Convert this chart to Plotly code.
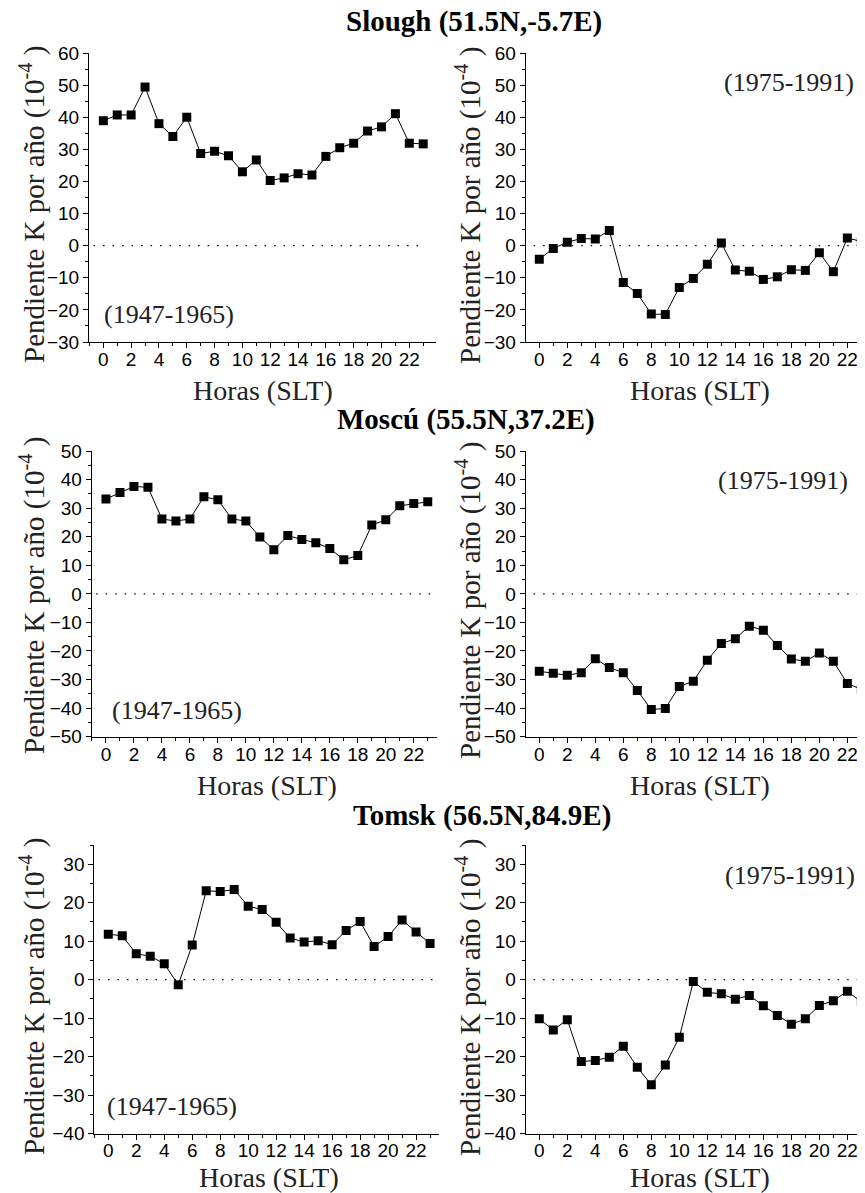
import plotly.graph_objects as go

# ---------------- data ----------------
hours = list(range(24))
x_tick_vals = list(range(0, 23, 2))

slough_1947_1965 = [38.9, 40.7, 40.7, 49.4, 38.0, 34.0, 40.0, 28.7, 29.4, 28.0, 23.0, 26.7,
                    20.3, 21.1, 22.4, 22.0, 27.8, 30.5, 31.9, 35.7, 37.0, 41.1, 31.9, 31.7]
slough_1975_1991 = [-4.2, -0.9, 1.1, 2.2, 2.1, 4.7, -11.5, -14.9, -21.3, -21.4, -13.0, -10.2,
                    -5.8, 0.8, -7.6, -8.0, -10.5, -9.7, -7.5, -7.7, -2.2, -8.1, 2.4, 1.3]
moscu_1947_1965 = [33.2, 35.5, 37.6, 37.3, 26.2, 25.5, 26.2, 34.0, 32.9, 26.2, 25.5, 19.9,
                   15.4, 20.4, 19.0, 17.9, 15.9, 11.9, 13.4, 24.1, 25.9, 30.8, 31.6, 32.2]
moscu_1975_1991 = [-27.1, -27.8, -28.5, -27.6, -22.7, -25.8, -27.6, -33.8, -40.5, -40.1, -32.4, -30.6,
                   -23.2, -17.4, -15.7, -11.3, -12.7, -18.1, -22.8, -23.6, -20.7, -23.6, -31.4, -33.4]
tomsk_1947_1965 = [11.8, 11.4, 6.7, 6.1, 4.1, -1.3, 9.0, 23.1, 22.9, 23.4, 19.1, 18.2,
                   14.9, 10.8, 9.8, 10.1, 9.1, 12.8, 15.1, 8.6, 11.2, 15.5, 12.4, 9.4]
tomsk_1975_1991 = [-10.2, -13.1, -10.4, -21.3, -21.0, -20.2, -17.3, -22.8, -27.3, -22.2, -15.0, -0.5,
                   -3.3, -3.7, -5.1, -4.1, -6.8, -9.3, -11.6, -10.2, -6.7, -5.5, -3.0, -5.8]

station_titles = ["Slough (51.5N,-5.7E)", "Moscú (55.5N,37.2E)", "Tomsk (56.5N,84.9E)"]
period_left = "(1947-1965)"
period_right = "(1975-1991)"
y_title = "Pendiente K por año (10<sup>-4</sup> )"
x_title = "Horas (SLT)"

# ---------------- layout geometry (screen pixels) ----------------
# The page body has an 8px margin, so the figure is sized to end exactly at the window edge.
OFF = 8
W, H = 865 - OFF, 1193 - OFF
def fx(p):
    return (p - OFF) / W
def fy(p):
    return 1 - (p - OFF) / H

SANS = "Liberation Sans"
SERIF = "Liberation Serif"
BLACK = "black"

rows = [
    dict(left=slough_1947_1965, right=slough_1975_1991, yr=[-30, 60], top=53, bot=342,
         lx=(89, 436), lxr=[-1.03, 23.92], ytc=(205, 206), xtc=390, title=(474, 21.5),
         lab_l=(-0.1, -21.5), lab_r=(22.6, 50.7)),
    dict(left=moscu_1947_1965, right=moscu_1975_1991, yr=[-50, 50], top=451, bot=736.7,
         lx=(91.7, 436.7), lxr=[-1.02, 23.64], ytc=(596, 601), xtc=785, title=(466, 420),
         lab_l=(0.3, -40.8), lab_r=(22.2, 39.6)),
    dict(left=tomsk_1947_1965, right=tomsk_1975_1991, yr=[-40, 35], top=845, bot=1133.5,
         lx=(94.3, 439.3), lxr=[-1.0, 23.66], ytc=(997, 998), xtc=1177, title=(482.5, 815),
         lab_l=(-0.24, -32.9), lab_r=(22.7, 27.0)),
]
right_x_px = (525.7, 865)
right_xr = [-0.97, 23.26]

fig = go.Figure()
annotations = []
shapes = []
layout_axes = {}

tickfont = dict(family=SANS, size=19, color=BLACK)

def main_x(rng, dom, anchor):
    return dict(domain=dom, range=rng, anchor=anchor, showline=True, linecolor=BLACK, linewidth=1,
                ticks="outside", ticklen=5, tickwidth=1, tickcolor=BLACK, automargin=False,
                tickmode="array", tickvals=x_tick_vals, ticktext=[str(v) for v in x_tick_vals],
                ticklabelstandoff=-5,
                minor=dict(tickmode="linear", tick0=0, dtick=1, ticks="outside", ticklen=3,
                           tickcolor=BLACK, tickwidth=1),
                showgrid=False, zeroline=False, tickfont=tickfont)

def main_y(rng, dom, anchor):
    return dict(domain=dom, range=rng, anchor=anchor, showline=True, linecolor=BLACK, linewidth=1,
                ticks="outside", ticklen=5, tickwidth=1, tickcolor=BLACK, automargin=False,
                tickmode="linear", tick0=0, dtick=10,
                minor=dict(tickmode="linear", tick0=0, dtick=5, ticks="outside", ticklen=3,
                           tickcolor=BLACK, tickwidth=1),
                showgrid=False, zeroline=False, tickfont=tickfont)

panel = 0
for k, r in enumerate(rows):
    ydom = [fy(r["bot"]), fy(r["top"])]
    for side in ("left", "right"):
        panel += 1
        i = panel
        if side == "left":
            xdom = [fx(r["lx"][0]), fx(r["lx"][1])]
            xr = r["lxr"]
        else:
            xdom = [fx(right_x_px[0]), min(1.0, fx(right_x_px[1]))]
            xr = right_xr
        xa, ya = f"x{i}", f"y{i}"
        layout_axes[f"xaxis{i}"] = main_x(xr, xdom, ya)
        layout_axes[f"yaxis{i}"] = main_y(r["yr"], ydom, xa)
        # top border with inward ticks
        layout_axes[f"xaxis{i + 6}"] = dict(
            overlaying=xa, anchor=ya, side="top", range=xr, showline=True, linecolor=BLACK,
            linewidth=1, ticks="inside", ticklen=5, tickcolor=BLACK, tickmode="array",
            tickvals=x_tick_vals, showticklabels=False, showgrid=False, zeroline=False,
            automargin=False,
            minor=dict(tickmode="linear", tick0=0, dtick=1, ticks="inside", ticklen=3,
                       tickcolor=BLACK))
        if side == "left":
            layout_axes[f"yaxis{i + 6}"] = dict(
                overlaying=ya, anchor=xa, side="right", range=r["yr"], showline=True,
                linecolor=BLACK, linewidth=1, ticks="inside", ticklen=5, tickcolor=BLACK,
                tickmode="linear", tick0=0, dtick=10, showticklabels=False, showgrid=False,
                zeroline=False, automargin=False,
                minor=dict(tickmode="linear", tick0=0, dtick=5, ticks="inside", ticklen=3,
                           tickcolor=BLACK))
        data = r[side]
        fig.add_trace(go.Scatter(
            x=hours, y=data, mode="lines+markers", xaxis=xa, yaxis=ya, showlegend=False,
            line=dict(color=BLACK, width=1),
            marker=dict(symbol="square", size=9, color=BLACK, line=dict(width=0))))
        # dotted zero reference line
        shapes.append(dict(type="line", xref=xa, yref=ya,
                           x0=-0.7 if side == "left" else -0.4,
                           x1=23.2 if side == "left" else 24,
                           y0=0, y1=0, line=dict(color=BLACK, width=1.3, dash="1.5px,8px")))
        # period label
        if side == "left":
            annotations.append(dict(text=period_left, xref=xa, yref=ya, x=r["lab_l"][0],
                                    y=r["lab_l"][1], xanchor="left", yanchor="middle",
                                    showarrow=False, font=dict(family=SERIF, size=26, color="#222")))
        else:
            annotations.append(dict(text=period_right, xref=xa, yref=ya, x=r["lab_r"][0],
                                    y=r["lab_r"][1], xanchor="right", yanchor="middle",
                                    showarrow=False, font=dict(family=SERIF, size=26, color="#222")))
        # x axis title
        annotations.append(dict(text=x_title, xref=xa, yref="paper", x=11.5, y=fy(r["xtc"]),
                                xanchor="center", yanchor="middle", showarrow=False,
                                font=dict(family=SERIF, size=28, color="#222")))
        # y axis title
        ytx = 32 if side == "left" else 468
        ytc = r["ytc"][0] if side == "left" else r["ytc"][1]
        annotations.append(dict(text=y_title, xref="paper", yref="paper", x=fx(ytx), y=fy(ytc),
                                xanchor="center", yanchor="middle", textangle=-90, showarrow=False,
                                font=dict(family=SERIF, size=29, color="#222")))
    # station title
    annotations.append(dict(text=f"<b>{station_titles[k]}</b>", xref="paper",
                            yref="paper", x=fx(r["title"][0]), y=fy(r["title"][1]),
                            xanchor="center", yanchor="middle", showarrow=False,
                            font=dict(family=SERIF, size=29, color=BLACK)))

fig.update_layout(width=W, height=H, margin=dict(l=0, r=0, t=0, b=0, autoexpand=False),
                  paper_bgcolor="white", plot_bgcolor="white",
                  annotations=annotations, shapes=shapes, **layout_axes)

fig.write_html("out.html")
